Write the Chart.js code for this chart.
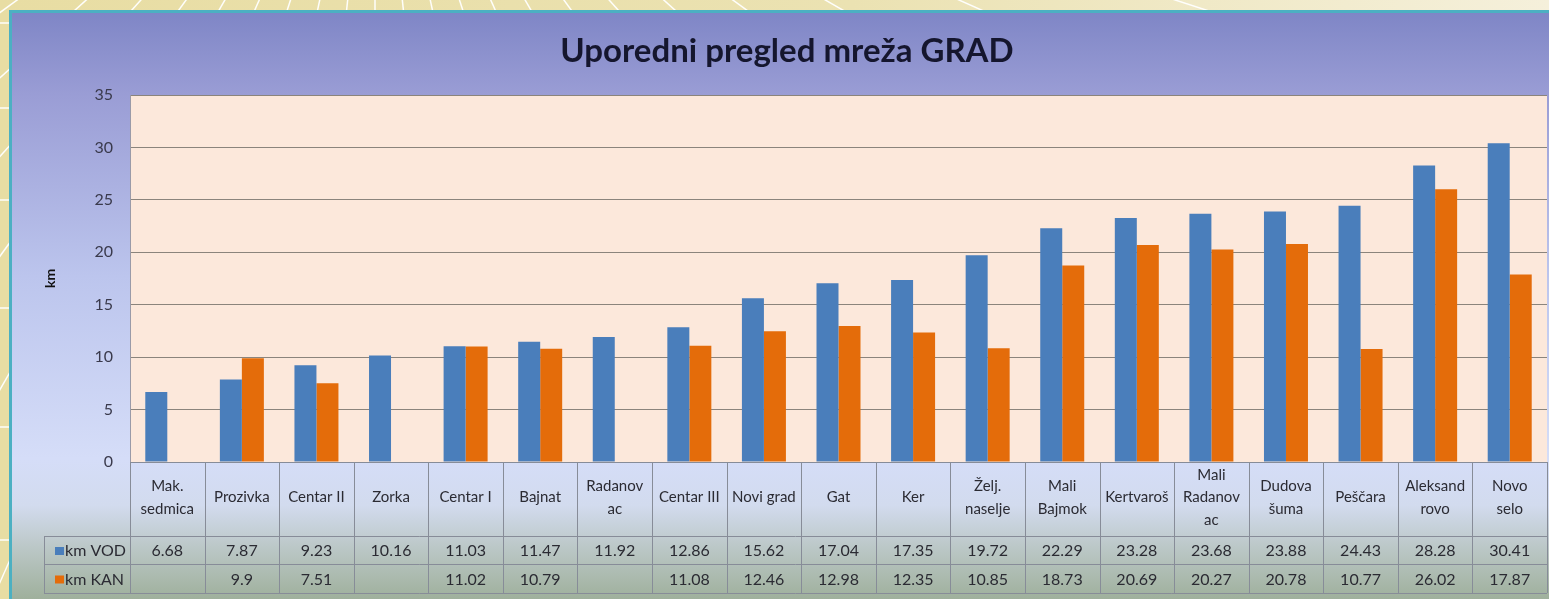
<!DOCTYPE html>
<html>
<head>
<meta charset="utf-8">
<script src="https://cdn.jsdelivr.net/npm/chart.js@4.4.1/dist/chart.umd.min.js"></script>
<style>
  html, body { margin: 0; padding: 0; background: #e9dfa8; overflow: hidden; }
  canvas { display: block; }
</style>
</head>
<body>
<canvas id="grafikon" width="1549" height="599"></canvas>
<script>
// podaci sa grafika
const categories = [
  ['Mak.', 'sedmica'], 'Prozivka', 'Centar II', 'Zorka', 'Centar I', 'Bajnat',
  ['Radanov', 'ac'], 'Centar III', 'Novi grad', 'Gat', 'Ker', ['Želj.', 'naselje'],
  ['Mali', 'Bajmok'], 'Kertvaroš', ['Mali', 'Radanov', 'ac'], ['Dudova', 'šuma'],
  'Peščara', ['Aleksand', 'rovo'], ['Novo', 'selo']
];
const kmVod = [6.68, 7.87, 9.23, 10.16, 11.03, 11.47, 11.92, 12.86, 15.62, 17.04, 17.35, 19.72, 22.29, 23.28, 23.68, 23.88, 24.43, 28.28, 30.41];
const kmKan = [null, 9.9, 7.51, null, 11.02, 10.79, null, 11.08, 12.46, 12.98, 12.35, 10.85, 18.73, 20.69, 20.27, 20.78, 10.77, 26.02, 17.87];
const seriesNames = ['km VOD', 'km KAN'];
const yTicks = [0, 5, 10, 15, 20, 25, 30, 35];
const chartTitle = 'Uporedni pregled mreža GRAD';
const yTitle = 'km';

const BLUE = '#4a7ebb';
const ORANGE = '#e46c0a';
const LINE = '#878c98';
const TEXT = '#2b2b33';
const FONT = 'Lato, "Open Sans", sans-serif';

// redovi tabele ispod grafika
const TABLE_LEFT = 44;
const ROW_LINES = [536, 564, 593];

// pozadina slajda, okvir, naslov i podloga grafika
const okvirPlugin = {
  id: 'okvir',
  beforeDraw(chart) {
    const { ctx, width, height, chartArea: a } = chart;
    ctx.save();

    let g = ctx.createLinearGradient(0, 0, width, 0);
    g.addColorStop(0, '#e8dda3');
    g.addColorStop(0.55, '#ebe2b2');
    g.addColorStop(1, '#f5f0db');
    ctx.fillStyle = g;
    ctx.fillRect(0, 0, width, height);

    // bele linije u pozadini
    ctx.strokeStyle = 'rgba(255,255,255,0.95)';
    ctx.lineWidth = 1.5;
    const cx = 375, cy = -260;
    for (let deg = -60; deg <= 84; deg += 6) {
      const r = deg * Math.PI / 180;
      ctx.beginPath();
      ctx.moveTo(cx, cy);
      ctx.lineTo(cx + Math.sin(r) * 3000, cy + Math.cos(r) * 3000);
      ctx.stroke();
    }
    [23, 108, 200, 308, 427, 540].forEach(y => {
      ctx.beginPath(); ctx.moveTo(0, y); ctx.lineTo(10, y); ctx.stroke();
    });

    // okvir
    ctx.fillStyle = '#4cb0c2';
    ctx.fillRect(9, 10, width - 9, height - 10);
    g = ctx.createLinearGradient(0, 13, 0, height);
    g.addColorStop(0, '#7f86c6');
    g.addColorStop(0.14, '#9a9dd5');
    g.addColorStop(0.45, '#bcc5ed');
    g.addColorStop(0.76, '#d5ddf8');
    g.addColorStop(0.84, '#d2dbee');
    g.addColorStop(0.91, '#bcc8c8');
    g.addColorStop(1, '#9fb09c');
    ctx.fillStyle = g;
    ctx.fillRect(12, 13, width - 12, height - 13);

    // naslov
    ctx.fillStyle = '#15162e';
    ctx.font = 'bold 33px ' + FONT;
    ctx.textAlign = 'center';
    ctx.textBaseline = 'alphabetic';
    ctx.fillText(chartTitle, 787, 62);

    // podloga grafika
    ctx.fillStyle = '#fce8db';
    ctx.fillRect(a.left, a.top, a.right - a.left, a.bottom - a.top);
    ctx.restore();
  },
  afterDraw(chart) {
    const { ctx, chartArea: a } = chart;
    const x = chart.scales.x;
    const step = x.getPixelForValue(1) - x.getPixelForValue(0);
    ctx.save();
    ctx.strokeStyle = LINE;
    ctx.lineWidth = 1;

    ctx.beginPath();
    ctx.moveTo(a.left, Math.round(a.bottom) + 0.5);
    ctx.lineTo(a.right, Math.round(a.bottom) + 0.5);
    ROW_LINES.forEach(y => {
      ctx.moveTo(TABLE_LEFT, y + 0.5);
      ctx.lineTo(a.right, y + 0.5);
    });
    for (let i = 0; i <= categories.length; i++) {
      const px = Math.round(x.getPixelForValue(i) - step / 2) + 0.5;
      ctx.moveTo(px, a.bottom);
      ctx.lineTo(px, ROW_LINES[2]);
    }
    ctx.moveTo(TABLE_LEFT + 0.5, ROW_LINES[0]);
    ctx.lineTo(TABLE_LEFT + 0.5, ROW_LINES[2]);
    ctx.stroke();

    // vrednosti i legenda
    const rows = [kmVod, kmKan];
    const colors = [BLUE, ORANGE];
    ctx.font = '16px ' + FONT;
    ctx.textBaseline = 'middle';
    ctx.fillStyle = TEXT;
    rows.forEach((vals, r) => {
      const cyRow = (ROW_LINES[r] + ROW_LINES[r + 1]) / 2 + 1;
      ctx.fillStyle = colors[r];
      ctx.fillRect(55, cyRow - 4, 9, 8);
      ctx.fillStyle = TEXT;
      ctx.textAlign = 'left';
      ctx.fillText(seriesNames[r], 65, cyRow);
      ctx.textAlign = 'center';
      vals.forEach((v, i) => {
        if (v === null) return;
        ctx.fillText(String(v), x.getPixelForValue(i), cyRow);
      });
    });
    ctx.restore();
  }
};

new Chart(document.getElementById('grafikon'), {
  type: 'bar',
  data: {
    labels: categories,
    datasets: [
      { label: seriesNames[0], data: kmVod, backgroundColor: BLUE, borderWidth: 0 },
      { label: seriesNames[1], data: kmKan, backgroundColor: ORANGE, borderWidth: 0 }
    ]
  },
  options: {
    responsive: false,
    animation: false,
    devicePixelRatio: 1,
    categoryPercentage: 0.59,
    barPercentage: 1.0,
    layout: { padding: { top: 95, left: 12, right: 2, bottom: 0 } },
    plugins: {
      legend: { display: false },
      tooltip: { enabled: false },
      title: { display: false }
    },
    scales: {
      x: {
        grid: { display: false, drawTicks: false },
        border: { display: false },
        ticks: {
          autoSkip: false,
          maxRotation: 0,
          minRotation: 0,
          padding: 13,
          crossAlign: 'center',
          color: TEXT,
          font: { family: FONT, size: 15, lineHeight: 1.5 }
        },
        afterFit: s => { s.height = 137; }
      },
      y: {
        min: 0,
        max: 35,
        afterBuildTicks: s => { s.ticks = yTicks.map(v => ({ value: v })); },
        grid: { color: '#8b847c', lineWidth: 1, drawTicks: false },
        border: { display: true, color: '#9a9aa8' },
        ticks: {
          padding: 17,
          color: '#3a3a4c',
          font: { family: FONT, size: 16 }
        },
        title: {
          display: true,
          text: yTitle,
          color: '#111',
          padding: { top: 30, bottom: 0 },
          font: { family: FONT, size: 14, weight: 'bold' }
        },
        afterFit: s => { s.width = 118; }
      }
    }
  },
  plugins: [okvirPlugin]
});
</script>
</body>
</html>
